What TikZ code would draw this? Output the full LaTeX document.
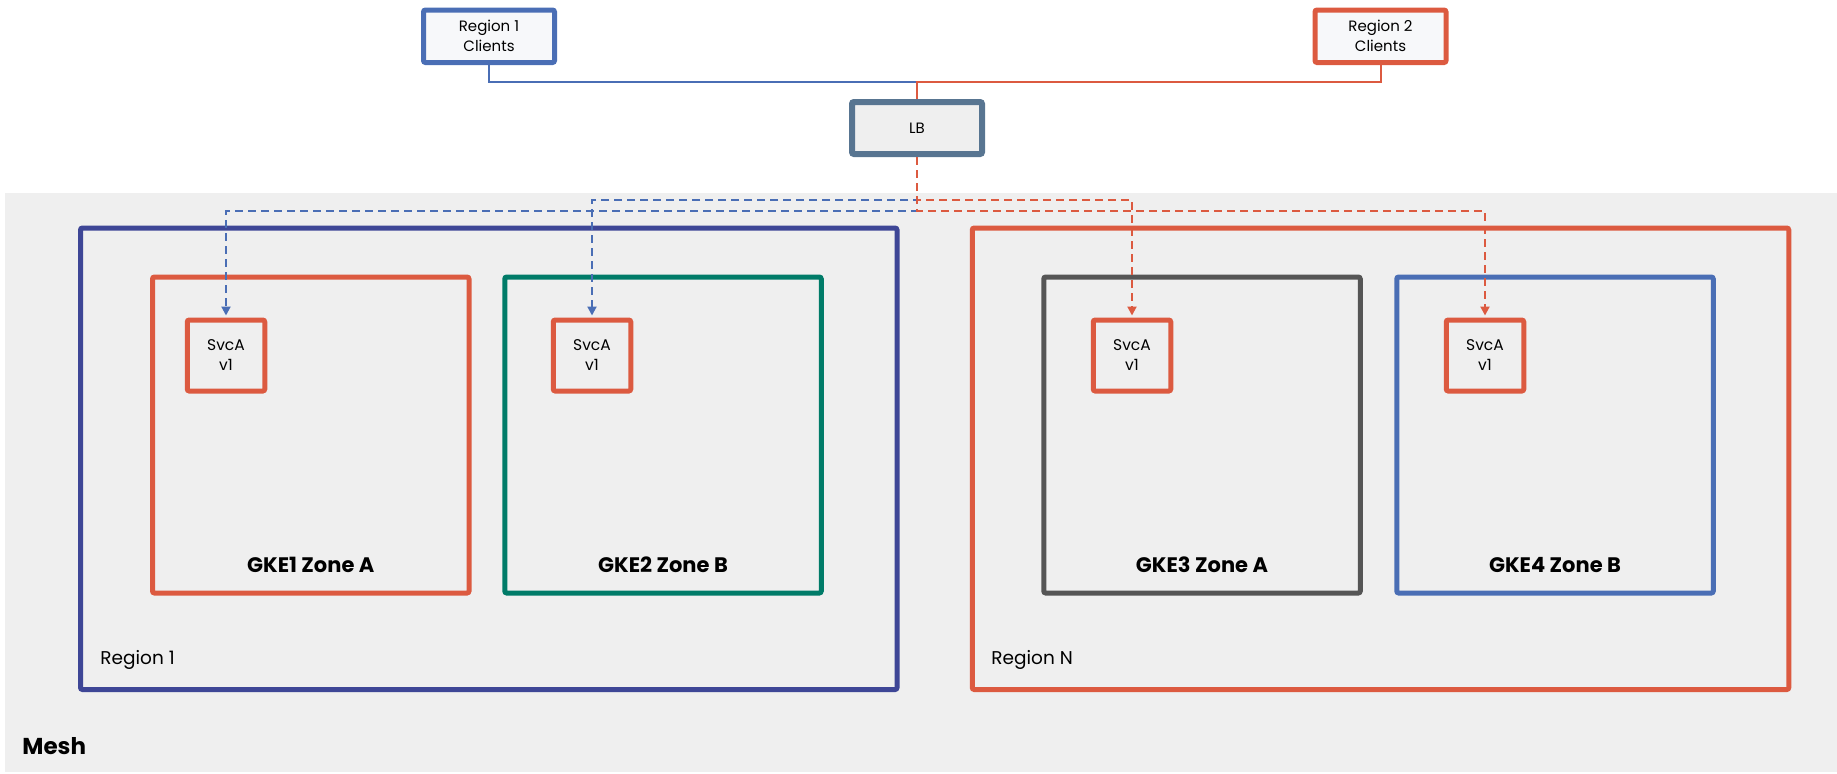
\documentclass[tikz,border=0pt]{standalone}
\usepackage{fontspec}
\setmainfont{Poppins}
\usetikzlibrary{positioning,arrows.meta}

\definecolor{meshgray}{RGB}{239,239,239}
\definecolor{svcred}{RGB}{220,90,64}
\definecolor{regblue}{RGB}{62,70,150}
\definecolor{lightblue}{RGB}{74,110,181}
\definecolor{tealgreen}{RGB}{0,123,104}
\definecolor{zonegray}{RGB}{85,85,85}
\definecolor{lbslate}{RGB}{88,117,145}
\definecolor{clientfill}{RGB}{247,248,250}

\begin{document}
\begin{tikzpicture}[x=0.5pt, y=-0.5pt,
    box/.style={draw, line width=2.5pt, rounded corners=1pt, inner sep=0pt, align=center},
    clientbox/.style={box, fill=clientfill, minimum width=65.5pt, minimum height=26.25pt, font=\fontsize{7.5}{10}\selectfont},
    lbbox/.style={box, draw=lbslate, fill=meshgray, line width=3pt, minimum width=65pt, minimum height=26pt, font=\fontsize{7.5}{10}\selectfont},
    svcbox/.style={box, draw=svcred, minimum width=38.75pt, minimum height=35.5pt, font=\fontsize{7.75}{10}\selectfont},
    zonebox/.style={box, minimum width=158.25pt, minimum height=158pt},
    regionbox/.style={box, minimum width=408.25pt, minimum height=230.75pt},
    zonelabel/.style={inner sep=0pt, font=\bfseries\fontsize{10.5}{12}\selectfont},
    regionlabel/.style={inner sep=0pt, anchor=west, font=\fontsize{9.25}{11}\selectfont},
    feed/.style={line width=1pt},
    route/.style={line width=1pt, dash pattern=on 4pt off 2.5pt, -{Triangle[width=4.5pt,length=4.5pt]}, shorten >=1pt},
  ]
  \useasboundingbox (0,0) rectangle (1837,773);
  \fill[meshgray] (5,193) rectangle (1837,772);

  % regions and clusters
  \node[regionbox, draw=regblue] (reg1) at (488.75,458.75) {};
  \node[regionbox, draw=svcred] (regN) at (1380.5,458.75) {};
  \node[regionlabel] (reg1-lbl) at (100,660) {Region 1};
  \node[regionlabel] (regN-lbl) at (991,660) {Region N};
  \node[regionlabel, font=\bfseries\fontsize{11.5}{13}\selectfont] (mesh-lbl) at (22,746) {Mesh};

  \foreach \n/\x/\col/\z in {1/310.75/svcred/A, 2/663/tealgreen/B, 3/1202/zonegray/A, 4/1555/lightblue/B} {
    \node[zonebox, draw=\col] (gke\n) at (\x,435) {};
    \node[zonelabel] (gke\n-lbl) at (\x,564.7) {GKE\n{} Zone \z};
  }
  \foreach \n/\x in {1/226, 2/592, 3/1132, 4/1485}
    \node[svcbox, fill=meshgray] (svc\n) at (\x,355.5) {SvcA\\v1};

  % clients and load balancer
  \node[clientbox, draw=lightblue] (r1c) at (489,36.25) {Region 1\\Clients};
  \node[clientbox, draw=svcred] (r2c) at (1380.5,36.25) {Region 2\\Clients};
  \node[lbbox] (lb) at (917,128) {LB};

  \coordinate (hub) at (917,81.7);
  \coordinate (busA) at (917,200);
  \coordinate (busB) at (917,210.7);
  \draw[feed, lightblue] (r1c.south) |- (hub);
  \draw[feed, svcred] (r2c.south) |- (hub) -- (lb.north);

  \draw[route, lightblue] (lb.south) -- (busB) -| (svc1.north);
  \draw[route, lightblue] (lb.south) -- (busA) -| (svc2.north);
  \draw[route, svcred] (lb.south) -- (busA) -| (svc3.north);
  \draw[route, svcred] (lb.south) -- (busB) -| (svc4.north);
\end{tikzpicture}
\end{document}
